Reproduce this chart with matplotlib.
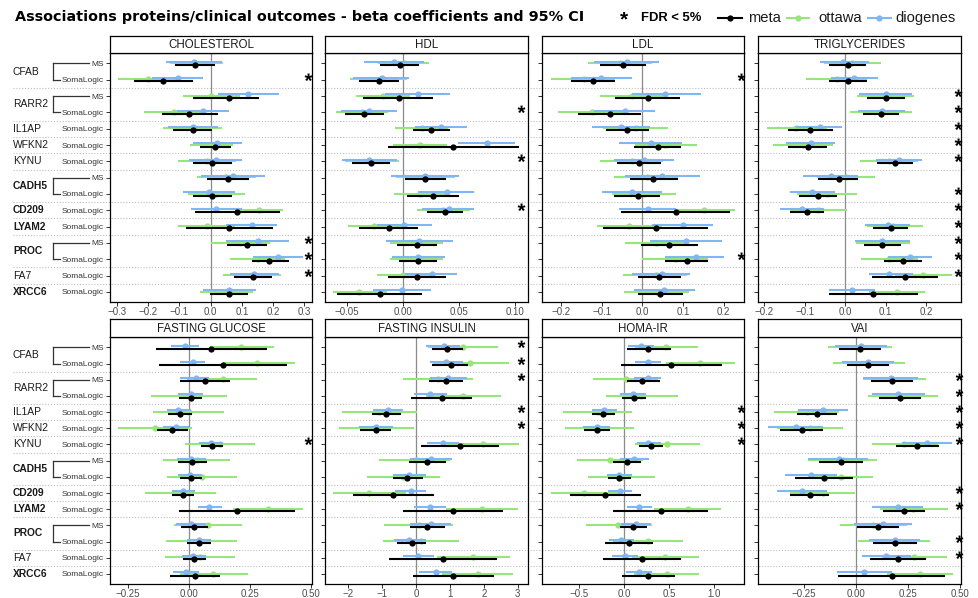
import numpy as np
import matplotlib
matplotlib.use("Agg")
import matplotlib.pyplot as plt
from matplotlib.lines import Line2D
import matplotlib.transforms as mtransforms
from matplotlib.ticker import FuncFormatter
from matplotlib.textpath import TextPath
from matplotlib.font_manager import FontProperties
from matplotlib.path import Path

plt.rcParams['font.family'] = ['Liberation Sans', 'DejaVu Sans']

# ---------------- data ----------------
proteins = ["CFAB", "CFAB", "RARR2", "RARR2", "IL1AP", "WFKN2", "KYNU", "CADH5", "CADH5",
            "CD209", "LYAM2", "PROC", "PROC", "FA7", "XRCC6"]
platforms = ["MS", "SomaLogic", "MS", "SomaLogic", "SomaLogic", "SomaLogic", "SomaLogic", "MS",
             "SomaLogic", "SomaLogic", "SomaLogic", "MS", "SomaLogic", "SomaLogic", "SomaLogic"]
bold_proteins = ["CADH5", "CD209", "LYAM2", "PROC", "XRCC6"]
outcomes = ["CHOLESTEROL", "HDL", "LDL", "TRIGLYCERIDES",
            "FASTING GLUCOSE", "FASTING INSULIN", "HOMA-IR", "VAI"]
cohorts = ["meta", "ottawa", "diogenes"]

# each row: [estimate, CI low, CI high]
chol_meta = [[-0.051, -0.114, 0.014], [-0.151, -0.245, -0.057], [0.060, -0.055, 0.155], [-0.068, -0.157, 0.024],
             [-0.058, -0.121, 0.003], [0.015, -0.035, 0.065], [0.004, -0.057, 0.067], [0.055, -0.011, 0.123],
             [0.004, -0.057, 0.067], [0.085, -0.050, 0.221], [0.060, -0.080, 0.200], [0.115, 0.051, 0.179],
             [0.187, 0.131, 0.251], [0.134, 0.076, 0.195], [0.057, -0.002, 0.120]]
chol_ottawa = [[-0.050, -0.130, 0.038], [-0.201, -0.295, -0.109], [0.001, -0.087, 0.094], [-0.116, -0.212, -0.023],
               [-0.058, -0.154, 0.035], [0.003, -0.065, 0.071], [-0.011, -0.103, 0.081], [0.049, -0.045, 0.145],
               [0.017, -0.071, 0.110], [0.155, 0.078, 0.230], [-0.013, -0.103, 0.078], [0.094, 0.001, 0.189],
               [0.152, 0.062, 0.237], [0.132, 0.038, 0.224], [0.055, -0.034, 0.136]]
chol_diogenes = [[-0.053, -0.143, 0.035], [-0.106, -0.188, -0.023], [0.120, 0.024, 0.219], [-0.026, -0.109, 0.060],
                 [-0.057, -0.135, 0.024], [0.020, -0.055, 0.099], [0.016, -0.068, 0.099], [0.070, -0.032, 0.173],
                 [-0.005, -0.089, 0.078], [0.017, -0.064, 0.099], [0.131, 0.049, 0.213], [0.150, 0.049, 0.251],
                 [0.216, 0.136, 0.296], [0.138, 0.062, 0.219], [0.060, -0.023, 0.145]]

hdl_meta = [[-0.003, -0.0208, 0.0143], [-0.0214, -0.0393, -0.0039], [-0.0042, -0.0357, 0.0268], [-0.0348, -0.052, -0.0172],
            [0.0247, 0.0083, 0.0416], [0.044, -0.0134, 0.1032], [-0.0288, -0.0461, -0.0119], [0.0196, 0.0015, 0.0381],
            [0.0268, 0.0036, 0.05], [0.0375, 0.0208, 0.0535], [-0.0131, -0.0393, 0.0134], [0.0119, -0.0054, 0.0303],
            [0.0128, -0.0036, 0.0297], [0.0125, -0.0134, 0.0381], [-0.0208, -0.0589, 0.0169]]
hdl_ottawa = [[0.0009, -0.0223, 0.0232], [-0.0208, -0.0476, 0.0036], [-0.0184, -0.0422, 0.0059], [-0.0372, -0.06, -0.0134],
              [0.0164, -0.0074, 0.0401], [0.0149, -0.0089, 0.0387], [-0.03, -0.052, -0.0039], [0.0202, -0.0065, 0.0461],
              [0.0149, -0.0083, 0.0393], [0.0357, 0.0119, 0.0595], [-0.0259, -0.049, -0.0015], [0.0119, -0.0119, 0.0357],
              [0.0119, -0.0119, 0.0357], [-0.0006, -0.0232, 0.0238], [-0.0393, -0.0624, -0.0149]]
hdl_diogenes = [[-0.0083, -0.0348, 0.0184], [-0.0193, -0.0446, 0.0054], [0.0128, -0.0164, 0.0416], [-0.0309, -0.0559, -0.006],
                [0.0333, 0.0104, 0.0565], [0.0743, 0.0491, 0.0996], [-0.0309, -0.055, -0.0054], [0.0196, -0.0113, 0.05],
                [0.0387, 0.0134, 0.063], [0.0404, 0.0164, 0.0633], [0.0009, -0.0238, 0.0259], [0.0143, -0.0155, 0.0446],
                [0.0134, -0.0104, 0.0372], [0.0253, 0.0015, 0.0482], [-0.0012, -0.0268, 0.0244]]

ldl_meta = [[-0.047, -0.104, 0.009], [-0.120, -0.175, -0.066], [0.013, -0.067, 0.093], [-0.080, -0.159, -0.002],
            [-0.037, -0.090, 0.016], [0.038, -0.020, 0.094], [-0.008, -0.063, 0.046], [0.027, -0.030, 0.087],
            [-0.011, -0.069, 0.043], [0.082, -0.052, 0.215], [0.034, -0.096, 0.161], [0.066, -0.003, 0.138],
            [0.109, 0.056, 0.162], [0.041, -0.011, 0.094], [0.043, -0.010, 0.099]]
ldl_ottawa = [[-0.055, -0.133, 0.023], [-0.143, -0.224, -0.067], [-0.025, -0.104, 0.052], [-0.123, -0.206, -0.043],
              [-0.016, -0.096, 0.064], [0.056, -0.018, 0.135], [-0.025, -0.104, 0.052], [0.011, -0.069, 0.088],
              [0.004, -0.074, 0.083], [0.152, 0.080, 0.228], [-0.033, -0.112, 0.048], [0.034, -0.043, 0.111],
              [0.083, 0.000, 0.162], [0.034, -0.047, 0.111], [0.035, -0.044, 0.115]]
ldl_diogenes = [[-0.0385, -0.118, 0.041], [-0.102, -0.175, -0.026], [0.056, -0.026, 0.144], [-0.043, -0.118, 0.031],
                [-0.052, -0.123, 0.019], [0.021, -0.057, 0.097], [0.005, -0.069, 0.078], [0.049, -0.043, 0.142],
                [-0.026, -0.100, 0.048], [0.013, -0.057, 0.084], [0.099, 0.025, 0.173], [0.107, 0.019, 0.197],
                [0.131, 0.057, 0.201], [0.048, -0.025, 0.117], [0.054, -0.020, 0.129]]

trig_meta = [[0.006, -0.039, 0.052], [0.007, -0.039, 0.053], [0.100, 0.053, 0.148], [0.089, 0.044, 0.134],
             [-0.086, -0.142, -0.030], [-0.092, -0.140, -0.045], [0.123, 0.078, 0.167], [-0.016, -0.066, 0.033],
             [-0.067, -0.113, -0.021], [-0.093, -0.135, -0.051], [0.113, 0.068, 0.156], [0.092, 0.047, 0.137],
             [0.142, 0.095, 0.189], [0.148, 0.066, 0.229], [0.070, -0.039, 0.179]]
trig_ottawa = [[0.017, -0.053, 0.088], [-0.021, -0.097, 0.053], [0.099, 0.030, 0.170], [0.090, 0.012, 0.165],
               [-0.121, -0.193, -0.045], [-0.103, -0.177, -0.029], [0.109, 0.037, 0.181], [0.002, -0.070, 0.074],
               [-0.044, -0.119, 0.029], [-0.068, -0.135, 0.004], [0.119, 0.053, 0.193], [0.093, 0.027, 0.159],
               [0.109, 0.040, 0.181], [0.193, 0.123, 0.263], [0.128, 0.058, 0.198]]
trig_diogenes = [[-0.006, -0.063, 0.058], [0.023, -0.035, 0.080], [0.100, 0.035, 0.165], [0.091, 0.033, 0.148],
                 [-0.063, -0.121, -0.008], [-0.085, -0.146, -0.025], [0.132, 0.077, 0.189], [-0.035, -0.103, 0.033],
                 [-0.082, -0.137, -0.025], [-0.107, -0.160, -0.053], [0.105, 0.049, 0.160], [0.091, 0.025, 0.159],
                 [0.160, 0.107, 0.214], [0.109, 0.058, 0.167], [0.016, -0.041, 0.074]]

gluc_meta = [[0.090, -0.134, 0.320], [0.142, -0.120, 0.402], [0.066, -0.036, 0.170], [0.008, -0.040, 0.056],
             [-0.036, -0.083, 0.012], [-0.067, -0.129, -0.004], [0.096, 0.049, 0.142], [0.015, -0.042, 0.074],
             [0.010, -0.036, 0.055], [-0.025, -0.070, 0.023], [0.197, -0.038, 0.436], [0.023, -0.031, 0.081],
             [0.042, -0.005, 0.090], [0.022, -0.025, 0.070], [0.026, -0.077, 0.129]]
gluc_ottawa = [[0.213, 0.088, 0.350], [0.282, 0.142, 0.436], [0.140, -0.008, 0.279], [0.005, -0.155, 0.159],
               [0.001, -0.148, 0.146], [-0.138, -0.289, 0.012], [0.129, -0.015, 0.272], [0.033, -0.107, 0.170],
               [0.053, -0.090, 0.197], [-0.025, -0.179, 0.112], [0.327, 0.183, 0.471], [0.081, -0.060, 0.218],
               [0.047, -0.093, 0.197], [0.047, -0.097, 0.190], [0.101, -0.036, 0.245]]
gluc_diogenes = [[-0.015, -0.073, 0.042], [0.016, -0.036, 0.067], [0.029, -0.036, 0.085], [0.008, -0.042, 0.060],
                 [-0.042, -0.090, 0.008], [-0.053, -0.104, 0.001], [0.092, 0.044, 0.140], [0.010, -0.049, 0.070],
                 [0.005, -0.045, 0.055], [-0.025, -0.070, 0.026], [0.085, 0.037, 0.135], [0.010, -0.052, 0.070],
                 [0.042, -0.008, 0.092], [0.019, -0.029, 0.070], [-0.012, -0.066, 0.044]]

ins_meta = [[0.92, 0.46, 1.39], [1.03, 0.46, 1.54], [0.88, 0.39, 1.375], [0.76, -0.16, 1.66],
            [-0.88, -1.31, -0.45], [-1.19, -1.65, -0.74], [1.30, 0.15, 2.45], [0.33, -0.20, 0.88],
            [-0.25, -0.67, 0.20], [-0.67, -1.85, 0.53], [1.10, -0.39, 2.57], [0.33, -0.18, 0.85],
            [-0.13, -0.55, 0.29], [0.805, -0.79, 2.38], [1.10, -0.10, 2.30]]
ins_ottawa = [[1.375, 0.36, 2.41], [1.59, 0.51, 2.75], [0.66, -0.37, 1.69], [1.375, 0.31, 2.50],
              [-1.08, -2.19, 0.02], [-1.19, -2.26, -0.05], [1.98, 0.90, 3.04], [-0.01, -1.08, 1.00],
              [-0.37, -1.45, 0.71], [-1.375, -2.44, -0.29], [1.935, 0.88, 3.02], [0.10, -0.94, 1.08],
              [0.15, -0.96, 1.28], [1.69, 0.61, 2.77], [1.82, 0.76, 2.85]]
ins_diogenes = [[0.825, 0.31, 1.30], [0.88, 0.41, 1.375], [0.95, 0.41, 1.49], [0.41, -0.06, 0.90],
                [-0.835, -1.28, -0.37], [-1.18, -1.67, -0.69], [0.805, 0.33, 1.28], [0.44, -0.18, 1.05],
                [-0.20, -0.67, 0.29], [-0.15, -0.62, 0.31], [0.41, -0.05, 0.88], [0.43, -0.18, 1.02],
                [-0.20, -0.65, 0.29], [0.07, -0.37, 0.53], [0.58, 0.10, 1.05]]

homa_meta = [[0.267, 0.026, 0.519], [0.519, -0.037, 1.081], [0.200, 0.026, 0.396], [0.111, -0.030, 0.241],
             [-0.233, -0.363, -0.104], [-0.300, -0.444, -0.159], [0.296, 0.163, 0.433], [0.030, -0.122, 0.185],
             [-0.056, -0.185, 0.074], [-0.215, -0.604, 0.185], [0.404, -0.122, 0.933], [0.093, -0.048, 0.248],
             [0.056, -0.215, 0.322], [0.193, -0.233, 0.626], [0.267, -0.022, 0.563]]
homa_ottawa = [[0.463, 0.119, 0.822], [0.841, 0.459, 1.230], [0.015, -0.344, 0.378], [0.185, -0.207, 0.593],
               [-0.296, -0.678, 0.089], [-0.281, -0.659, 0.111], [0.470, 0.119, 0.841], [-0.159, -0.530, 0.211],
               [-0.030, -0.400, 0.341], [-0.452, -0.815, -0.074], [0.704, 0.333, 1.074], [-0.067, -0.430, 0.304],
               [0.259, -0.122, 0.648], [0.452, 0.081, 0.830], [0.470, 0.111, 0.830]]
homa_diogenes = [[0.185, 0.044, 0.333], [0.259, 0.119, 0.407], [0.259, 0.111, 0.404], [0.093, -0.048, 0.241],
                 [-0.222, -0.363, -0.085], [-0.307, -0.456, -0.159], [0.267, 0.137, 0.407], [0.111, -0.048, 0.274],
                 [-0.059, -0.196, 0.081], [-0.048, -0.178, 0.081], [0.163, 0.026, 0.304], [0.126, -0.037, 0.296],
                 [-0.037, -0.170, 0.111], [0.007, -0.133, 0.148], [0.163, 0.015, 0.304]]

vai_meta = [[0.019, -0.080, 0.119], [0.059, -0.042, 0.160], [0.175, 0.072, 0.276], [0.212, 0.112, 0.312],
            [-0.186, -0.282, -0.093], [-0.261, -0.365, -0.157], [0.295, 0.192, 0.401], [-0.072, -0.178, 0.032],
            [-0.152, -0.293, -0.013], [-0.221, -0.317, -0.128], [0.231, 0.131, 0.332], [0.107, 0.003, 0.208],
            [0.188, 0.083, 0.292], [0.200, 0.067, 0.335], [0.175, -0.085, 0.428]]
vai_ottawa = [[0.019, -0.136, 0.175], [0.060, -0.109, 0.236], [0.175, 0.032, 0.337], [0.225, 0.059, 0.396],
              [-0.237, -0.394, -0.082], [-0.221, -0.381, -0.061], [0.232, 0.075, 0.393], [-0.062, -0.229, 0.099],
              [-0.072, -0.229, 0.083], [-0.160, -0.317, -0.005], [0.276, 0.115, 0.444], [0.083, -0.077, 0.244],
              [0.185, 0.011, 0.356], [0.280, 0.123, 0.439], [0.308, 0.147, 0.465]]
vai_diogenes = [[0.022, -0.101, 0.147], [0.056, -0.069, 0.183], [0.167, 0.035, 0.300], [0.204, 0.079, 0.332],
                [-0.157, -0.280, -0.037], [-0.290, -0.425, -0.157], [0.340, 0.220, 0.463], [-0.082, -0.229, 0.059],
                [-0.216, -0.341, -0.093], [-0.258, -0.378, -0.138], [0.200, 0.075, 0.324], [0.128, -0.008, 0.268],
                [0.188, 0.064, 0.308], [0.144, 0.027, 0.263], [0.040, -0.093, 0.171]]

# rows (1-based) with FDR < 5%
chol_fdr = [2, 12, 13, 14]
hdl_fdr = [4, 7, 10]
ldl_fdr = [2, 13]
trig_fdr = [3, 4, 5, 6, 7, 9, 10, 11, 12, 13, 14]
gluc_fdr = [7]
ins_fdr = [1, 2, 3, 5, 6]
homa_fdr = [5, 6, 7]
vai_fdr = [3, 4, 5, 6, 7, 10, 11, 13, 14]

chol_ticks = [-0.3, -0.2, -0.1, 0.0, 0.1, 0.2, 0.3]
hdl_ticks = [-0.05, 0.0, 0.05, 0.10]
ldl_ticks = [-0.2, -0.1, 0.0, 0.1, 0.2]
trig_ticks = [-0.2, -0.1, 0.0, 0.1, 0.2]
gluc_ticks = [-0.25, 0.0, 0.25, 0.50]
ins_ticks = [-2, -1, 0, 1, 2, 3]
homa_ticks = [-0.5, 0.0, 0.5, 1.0]
vai_ticks = [-0.25, 0.0, 0.25, 0.50]

# ---------------- layout / style ----------------
BLUE = '#80B6F2'
GREEN = '#97E67C'
BLACK = '#000000'
W, H = 979, 598


def fx(p):
    return p / W


def fy(p):
    return 1 - p / H


# centred asterisk marker built from the font glyph
_tp = TextPath((0, 0), '*', size=10, prop=FontProperties(family='Liberation Sans', weight='bold'))
_v = _tp.vertices.copy()
_c = (_v.min(axis=0) + _v.max(axis=0)) / 2
STAR = Path(_v - _c, _tp.codes)

panels = [
    (outcomes[0], chol_meta, chol_ottawa, chol_diogenes, chol_fdr, chol_ticks, (-0.322, 0.324), '%.1f', 0.980),
    (outcomes[1], hdl_meta, hdl_ottawa, hdl_diogenes, hdl_fdr, hdl_ticks, (-0.0698, 0.1112), '%.2f', 0.966),
    (outcomes[2], ldl_meta, ldl_ottawa, ldl_diogenes, ldl_fdr, ldl_ticks, (-0.2464, 0.2499), '%.1f', 0.985),
    (outcomes[3], trig_meta, trig_ottawa, trig_diogenes, trig_fdr, trig_ticks, (-0.215, 0.286), '%.1f', 0.985),
    (outcomes[4], gluc_meta, gluc_ottawa, gluc_diogenes, gluc_fdr, gluc_ticks, (-0.323, 0.506), '%.2f', 0.980),
    (outcomes[5], ins_meta, ins_ottawa, ins_diogenes, ins_fdr, ins_ticks, (-2.68, 3.30), '%d', 0.966),
    (outcomes[6], homa_meta, homa_ottawa, homa_diogenes, homa_fdr, homa_ticks, (-0.914, 1.33), '%.1f', 0.985),
    (outcomes[7], vai_meta, vai_ottawa, vai_diogenes, vai_fdr, vai_ticks, (-0.471, 0.505), '%.2f', 0.988),
]

col_px = [(110, 312), (325, 528), (542, 744), (758, 961)]
row_px = [(36, 53, 302), (319, 337, 584)]
ypos = np.arange(1, len(proteins) + 1)
seps = [2.5, 4.5, 5.5, 6.5, 7.5, 9.5, 10.5, 11.5, 13.5, 14.5]

fig = plt.figure(figsize=(W / 100, H / 100), dpi=100)
fig.patch.set_facecolor('white')

STAR_MS = 10
first_axes = []
for i, (name, meta, ott, dio, fdr, ticks, xlim, fmt, sfrac) in enumerate(panels):
    r, c = divmod(i, 4)
    l, rr = col_px[c]
    st, top, bot = row_px[r]
    ax = fig.add_axes([fx(l), fy(bot), (rr - l) / W, (bot - top) / H])
    ax.set_facecolor('none')
    ax.set_xlim(*xlim)
    ax.set_ylim(15.62, 0.36)
    ax.axvline(0, color='#8a8a8a', lw=0.9, zorder=1)
    for data, color, off, z in [(ott, GREEN, -0.02, 2), (dio, BLUE, -0.11, 3), (meta, BLACK, 0.10, 4)]:
        arr = np.array(data)
        yy = ypos + off
        ax.hlines(yy, arr[:, 1], arr[:, 2], color=color, lw=1.5, zorder=z)
        ax.plot(arr[:, 0], yy, 'o', color=color, ms=4.5, mew=0, zorder=z + 0.5)
    # FDR stars
    trans = mtransforms.blended_transform_factory(ax.transAxes, ax.transData)
    sy = [ypos[k - 1] for k in fdr]
    ax.plot([sfrac] * len(sy), sy, linestyle='none', marker=STAR, ms=STAR_MS, mew=0,
            color='black', transform=trans, clip_on=False, zorder=6)
    ax.set_xticks(ticks)
    ax.xaxis.set_major_formatter(FuncFormatter(lambda v, p, f=fmt: (f % v).replace('-', '\u2212')))
    ax.set_yticks(ypos)
    if c == 0:
        ax.set_yticklabels(platforms, fontsize=6, color='#333333')
        first_axes.append(ax)
    else:
        ax.set_yticklabels([])
    ax.tick_params(axis='both', length=2.6, width=0.7, color='#333333', pad=1.8)
    ax.tick_params(axis='x', labelsize=7, labelcolor='#4D4D4D', pad=1.0)
    for s in ax.spines.values():
        s.set_color('black')
        s.set_linewidth(0.9)
    # strip
    sax = fig.add_axes([fx(l), fy(top), (rr - l) / W, (top - st) / H])
    sax.set_facecolor('white')
    sax.set_xticks([])
    sax.set_yticks([])
    for s in sax.spines.values():
        s.set_color('black')
        s.set_linewidth(0.9)
    sax.text(0.5, 0.47, name, ha='center', va='center', fontsize=8.3, color='#1A1A1A',
             transform=sax.transAxes)

# dotted separators across the whole figure
for ax in first_axes:
    for sv in seps:
        ydisp = ax.transData.transform((0, sv))[1]
        yfrac = ydisp / H
        fig.add_artist(Line2D([fx(13), fx(964)], [yfrac, yfrac], transform=fig.transFigure,
                              color='#BDBDBD', lw=0.8, ls=(0, (1, 1.6)), zorder=-1))

# protein labels
groups = []
for idx, p in enumerate(proteins):
    if groups and groups[-1][0] == p:
        groups[-1][1].append(idx)
    else:
        groups.append([p, [idx]])

fig.canvas.draw()
renderer = fig.canvas.get_renderer()
for ax in first_axes:
    blend = mtransforms.blended_transform_factory(fig.transFigure, ax.transData)
    labels = ax.get_yticklabels()
    for p, idxs in groups:
        ym = np.mean([ypos[j] for j in idxs])
        fig.text(fx(13), ym, p, transform=blend, ha='left', va='center', fontsize=7.4,
                 color='#1A1A1A', fontweight='bold' if p in bold_proteins else 'normal')
        if len(idxs) == 2:
            ys = []
            for j in idxs:
                yd = ax.transData.transform((0, ypos[j]))[1] / H
                ys.append(yd)
                bb = labels[j].get_window_extent(renderer)
                fig.add_artist(Line2D([fx(53), (bb.x0 - 2) / W], [yd, yd], transform=fig.transFigure,
                                      color='#333333', lw=0.9))
            fig.add_artist(Line2D([fx(53), fx(53)], ys, transform=fig.transFigure,
                                  color='#333333', lw=0.9))

# title
fig.text(fx(15), fy(17), 'Associations proteins/clinical outcomes - beta coefficients and 95% CI',
         ha='left', va='center', fontsize=10.4, fontweight='bold', color='black',
         family=['DejaVu Sans'])

# legend
ly = fy(18)
STAR_FS = 15
ltrans = fig.transFigure + mtransforms.ScaledTranslation(0, -STAR_FS * 0.34 / 72, fig.dpi_scale_trans)
fig.text(fx(624), ly, '*', transform=ltrans, ha='center', va='baseline', fontsize=STAR_FS,
         fontweight='bold', color='black')
fig.text(fx(641), ly, 'FDR < 5%', ha='left', va='center', fontsize=9.4, fontweight='bold', color='black')
for lab, color, x0, x1, tx in [('meta', BLACK, 718, 742, 748), ('ottawa', GREEN, 787, 809, 818),
                               ('diogenes', BLUE, 868, 891, 895)]:
    fig.add_artist(Line2D([fx(x0), fx(x1)], [ly, ly], transform=fig.transFigure, color=color, lw=1.5))
    fig.add_artist(Line2D([fx((x0 + x1) / 2)], [ly], transform=fig.transFigure, color=color,
                          marker='o', ms=4.5, mew=0))
    fig.text(fx(tx), ly, lab, ha='left', va='center', fontsize=10.6, color='#1A1A1A')

fig.savefig('out.png', dpi=100, facecolor='white')
